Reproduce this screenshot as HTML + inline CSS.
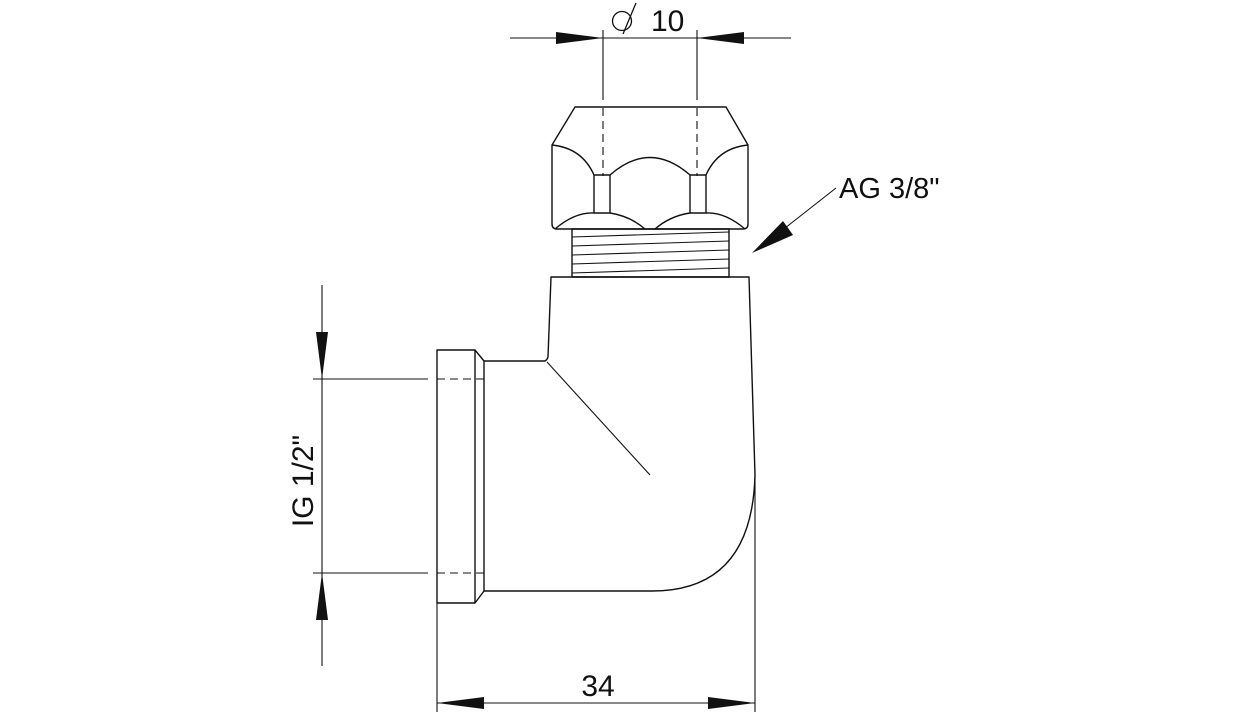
<!DOCTYPE html>
<html><head><meta charset="utf-8"><style>
html,body{margin:0;padding:0;background:#fff;width:1252px;height:716px;overflow:hidden}
svg text{font-family:"Liberation Sans",sans-serif;fill:#111}
</style></head><body>
<svg width="1252" height="716" viewBox="0 0 1252 716" xmlns="http://www.w3.org/2000/svg">
<g fill="none" stroke="#111" stroke-width="1.4" stroke-linejoin="round">
<line x1="510" y1="38" x2="791" y2="38" stroke-width="1.1"/>
<line x1="603" y1="30" x2="603" y2="100" stroke-width="1.1"/>
<line x1="697" y1="30" x2="697" y2="100" stroke-width="1.1"/>
<line x1="603" y1="108" x2="603" y2="176" stroke-width="1.1" stroke-dasharray="8,5"/>
<line x1="697" y1="108" x2="697" y2="176" stroke-width="1.1" stroke-dasharray="8,5"/>
<!-- diameter symbol -->
<circle cx="622" cy="21" r="9.5" stroke-width="1.3"/>
<line x1="623" y1="34" x2="636" y2="3" stroke-width="1.3"/>
<!-- nut -->
<path d="M575,107 L726,107 L748,145 L748,224 Q748,229 743,229 L557,229 Q552,229 552,224 L552,145 Z"/>
<path d="M552,145 Q582,148 594,175 L610,175 Q650,140 690,175 L706,175 Q718,148 748,145"/>
<line x1="594" y1="175" x2="594" y2="213"/>
<line x1="610" y1="175" x2="610" y2="213"/>
<line x1="690" y1="175" x2="690" y2="213"/>
<line x1="706" y1="175" x2="706" y2="213"/>
<path d="M555,229 Q575,212 594,213 L610,213 Q630,216 645,229"/>
<path d="M655,229 Q670,216 690,213 L706,213 Q725,212 745,229"/>
<rect x="572" y="229" width="157" height="48"/>
<g stroke-width="1.1">
<line x1="572" y1="237" x2="729" y2="232"/>
<line x1="572" y1="246" x2="729" y2="241"/>
<line x1="572" y1="255" x2="729" y2="250"/>
<line x1="572" y1="264" x2="729" y2="259"/>
<line x1="572" y1="273" x2="729" y2="268"/>
</g>
<path d="M484,361 L545,361 Q547,360 548,357 L551,277 L749,277 L755,475 Q752,591 652,591 L484,591"/>
<line x1="547" y1="362" x2="650" y2="475" stroke-width="1.1"/>
<path d="M437,350 L475,350 L484,361 L484,591 L475,603 L437,603 Z"/>
<line x1="475" y1="350" x2="475" y2="603"/>
<line x1="322" y1="285" x2="322" y2="666" stroke-width="1.1"/>
<line x1="313" y1="379" x2="428" y2="379" stroke-width="1.1"/>
<line x1="313" y1="573" x2="428" y2="573" stroke-width="1.1"/>
<line x1="437" y1="379" x2="484" y2="379" stroke-width="1.1" stroke-dasharray="8,5"/>
<line x1="437" y1="573" x2="484" y2="573" stroke-width="1.1" stroke-dasharray="8,5"/>
<line x1="437" y1="603" x2="437" y2="712" stroke-width="1.1"/>
<line x1="755" y1="475" x2="755" y2="712" stroke-width="1.1"/>
<line x1="437" y1="703" x2="755" y2="703" stroke-width="1.1"/>
<line x1="836" y1="188" x2="780" y2="232" stroke-width="1.1"/>
</g>
<g fill="#111">
<polygon points="556,32 603,38 556,44"/>
<polygon points="744,32 697,38 744,44"/>
<polygon points="316,332 322,379 328,332"/>
<polygon points="316,620 322,573 328,620"/>
<polygon points="484,697 437,703 484,709"/>
<polygon points="708,697 755,703 708,709"/>
<polygon points="752,253 783,221 793,235"/>
</g>
<text x="651" y="31" font-size="30">10</text>
<text x="839" y="198" font-size="29">AG 3/8"</text>
<text x="598" y="696" font-size="30" text-anchor="middle">34</text>
<text x="0" y="0" font-size="30" text-anchor="middle" transform="translate(313,481) rotate(-90)">IG 1/2"</text>
</svg>
</body></html>
